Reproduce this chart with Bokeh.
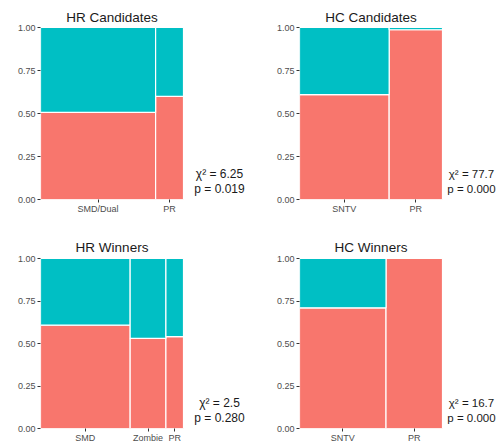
from bokeh.plotting import figure
from bokeh.models import Range1d, FixedTicker, NumeralTickFormatter, Label, ColumnDataSource
from bokeh.layouts import gridplot
from bokeh.embed import file_html
from bokeh.resources import INLINE

RED = "#F8766D"
TEAL = "#00BFC4"
FONT = "Liberation Sans"

# ---- data ----
# column widths = share of observations in each category; red = share of the red group
hr_cand_cats = ["SMD/Dual", "PR"]
hr_cand_width = [0.805, 0.195]
hr_cand_red = [0.506, 0.599]
hr_cand_chi, hr_cand_p = "6.25", "0.019"

hc_cand_cats = ["SNTV", "PR"]
hc_cand_width = [0.627, 0.373]
hc_cand_red = [0.61, 0.987]
hc_cand_chi, hc_cand_p = "77.7", "0.000"

hr_win_cats = ["SMD", "Zombie", "PR"]
hr_win_width = [0.627, 0.25, 0.123]
hr_win_red = [0.608, 0.53, 0.54]
hr_win_chi, hr_win_p = "2.5", "0.280"

hc_win_cats = ["SNTV", "PR"]
hc_win_width = [0.605, 0.395]
hc_win_red = [0.71, 1.0]
hc_win_chi, hc_win_p = "16.7", "0.000"

y_ticks = [0.0, 0.25, 0.5, 0.75, 1.0]

# ---- layout (pixels) ----
BAR_W = 143          # width of the mosaic area


def panel(title, cats, widths, red, chi, pval,
          left, extra_right, bar_h, top, bottom, title_gap, text_dx, text_size):
    total = sum(widths)
    lefts, rights = [], []
    acc = 0.0
    for w in widths:
        lefts.append(acc / total)
        acc += w
        rights.append(acc / total)
    centers = [round((l + r) / 2, 4) for l, r in zip(lefts, rights)]

    fw = BAR_W + extra_right
    fh = bar_h + top
    p = figure(frame_width=fw, frame_height=fh,
               min_border_left=left, min_border_right=0,
               min_border_top=0, min_border_bottom=bottom,
               x_range=Range1d(0, fw / BAR_W), y_range=Range1d(0, fh / bar_h),
               output_backend="svg", toolbar_location=None,
               background_fill_color="white", border_fill_color="white")
    p.title = None
    p.outline_line_color = None
    p.xgrid.visible = False
    p.ygrid.visible = False

    src = ColumnDataSource(dict(
        left=lefts + lefts,
        right=rights + rights,
        bottom=[0.0] * len(red) + list(red),
        top=list(red) + [1.0] * len(red),
        color=[RED] * len(red) + [TEAL] * len(red),
    ))
    p.quad(left="left", right="right", bottom="bottom", top="top", source=src,
           fill_color="color", line_color="white", line_width=1.2)

    p.xaxis.ticker = FixedTicker(ticks=centers)
    p.xaxis.major_label_overrides = {c: t for c, t in zip(centers, cats)}
    p.yaxis.ticker = FixedTicker(ticks=y_ticks)
    p.yaxis.formatter = NumeralTickFormatter(format="0.00")
    for ax in (p.xaxis, p.yaxis):
        ax.axis_line_color = None
        ax.major_tick_line_color = "#333333"
        ax.major_tick_out = 3
        ax.major_tick_in = 0
        ax.minor_tick_line_color = None
        ax.major_label_text_color = "#4D4D4D"
        ax.major_label_text_font = FONT
        ax.major_label_text_font_size = "9px"
        ax.major_label_standoff = 2
    p.xaxis.major_label_standoff = 1

    p.add_layout(Label(x=0.5, y=1, y_offset=title_gap, text=title,
                       text_align="center", text_baseline="alphabetic",
                       text_font=FONT, text_font_size="13.5px", text_color="#1A1A1A"))
    p.add_layout(Label(x=1, y=0, x_offset=text_dx, y_offset=26, text="χ² = " + chi,
                       text_align="center", text_baseline="alphabetic",
                       text_font=FONT, text_font_size=text_size, text_color="#1A1A1A"))
    p.add_layout(Label(x=1, y=0, x_offset=text_dx, y_offset=11, text="p = " + pval,
                       text_align="center", text_baseline="alphabetic",
                       text_font=FONT, text_font_size=text_size, text_color="#1A1A1A"))
    return p


p1 = panel("HR Candidates", hr_cand_cats, hr_cand_width, hr_cand_red, hr_cand_chi, hr_cand_p,
           40, 66, 172, 27, 23, 10, 36, "12px")
p2 = panel("HC Candidates", hc_cand_cats, hc_cand_width, hc_cand_red, hc_cand_chi, hc_cand_p,
           50, 56, 172, 27, 23, 10, 29, "11.5px")
p3 = panel("HR Winners", hr_win_cats, hr_win_width, hr_win_red, hr_win_chi, hr_win_p,
           40, 66, 170, 36, 16, 11, 36, "12px")
p4 = panel("HC Winners", hc_win_cats, hc_win_width, hc_win_red, hc_win_chi, hc_win_p,
           50, 56, 170, 36, 16, 11, 29, "11.5px")

grid = gridplot([[p1, p2], [p3, p4]], toolbar_location=None)

open("out.html", "w").write(file_html(grid, INLINE))
